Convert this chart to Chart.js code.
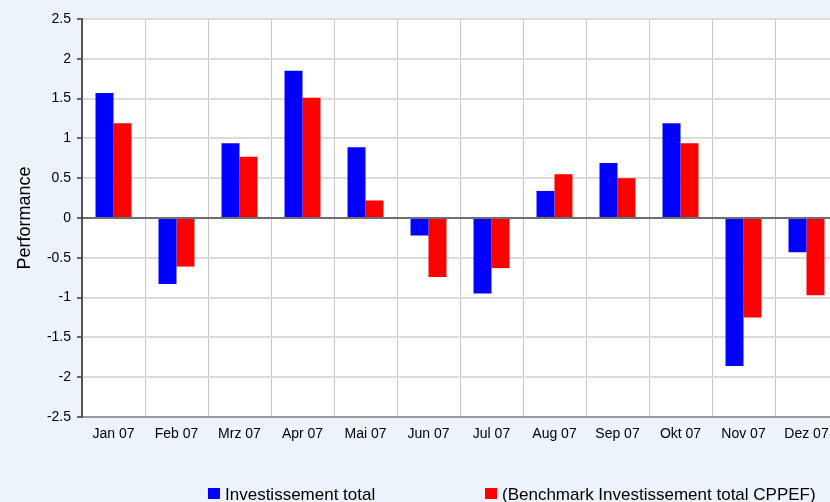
<!DOCTYPE html>
<html>
<head>
<meta charset="utf-8">
<script src="https://cdn.jsdelivr.net/npm/chart.js@4/dist/chart.umd.min.js"></script>
<style>
html,body{margin:0;padding:0;background:#EDF3FB;overflow:hidden;width:830px;height:502px;}
canvas{display:block;}
</style>
</head>
<body>
<canvas id="c" width="850" height="502"></canvas>
<script>
const categories = ['Jan 07','Feb 07','Mrz 07','Apr 07','Mai 07','Jun 07','Jul 07','Aug 07','Sep 07','Okt 07','Nov 07','Dez 07'];
const investissement = [1.57,-0.83,0.94,1.85,0.89,-0.22,-0.95,0.34,0.69,1.19,-1.86,-0.43];
const benchmark = [1.19,-0.61,0.77,1.51,0.22,-0.74,-0.63,0.55,0.50,0.94,-1.25,-0.97];
const seriesLabels = ['Investissement total','(Benchmark Investissement total CPPEF)'];
const yTicks = [2.5,2,1.5,1,0.5,0,-0.5,-1,-1.5,-2,-2.5];

const FONT = '"Liberation Sans", Arial, sans-serif';

const plotBg = {
  id:'plotBg',
  beforeDraw(chart){
    const {ctx, chartArea:a} = chart;
    ctx.save(); ctx.fillStyle='#FFFFFF';
    ctx.fillRect(a.left,a.top,a.right-a.left,a.bottom-a.top);
    ctx.restore();
  }
};
const zeroLine = {
  id:'zeroLine',
  afterDatasetsDraw(chart){
    const {ctx, chartArea:a, scales:{y}} = chart;
    const py = Math.round(y.getPixelForValue(0));
    ctx.save(); ctx.strokeStyle='rgba(0,0,0,0.5)'; ctx.lineWidth=2;
    ctx.beginPath(); ctx.moveTo(a.left,py); ctx.lineTo(a.right,py); ctx.stroke();
    ctx.restore();
  }
};
const customLegend = {
  id:'customLegend',
  afterDraw(chart){
    const {ctx} = chart;
    const pos = [208,485];
    ctx.save();
    ctx.font = '17px ' + FONT;
    ctx.textBaseline = 'alphabetic';
    chart.data.datasets.forEach((ds,i)=>{
      ctx.fillStyle = ds.backgroundColor;
      ctx.fillRect(pos[i],488,12,11);
      ctx.fillStyle = '#000';
      ctx.fillText(ds.label,pos[i]+17,500);
    });
    ctx.restore();
  }
};

new Chart(document.getElementById('c'),{
  type:'bar',
  data:{
    labels:categories,
    datasets:[
      {label:seriesLabels[0],data:investissement,backgroundColor:'#0000FF',categoryPercentage:0.571,barPercentage:1.0},
      {label:seriesLabels[1],data:benchmark,backgroundColor:'#FF0000',categoryPercentage:0.571,barPercentage:1.0}
    ]
  },
  options:{
    responsive:false,
    animation:false,
    layout:{padding:{left:0,right:12,top:19,bottom:0}},
    plugins:{legend:{display:false},tooltip:{enabled:false}},
    scales:{
      x:{
        afterFit(s){ s.height = 85; },
        grid:{offset:true,color:'#C8C8C8',lineWidth:1,drawTicks:false},
        border:{color:'#9A9A9A',width:2},
        ticks:{color:'#000',font:{family:FONT,size:14},padding:9,maxRotation:0,autoSkip:false}
      },
      y:{
        min:-2.5,max:2.5,
        afterFit(s){ s.width = 82; },
        afterBuildTicks(s){ s.ticks = yTicks.map(v=>({value:v})); },
        grid:{color:'#DCDCDC',lineWidth:2,tickColor:'#666666',tickLength:5},
        border:{color:'#555555',width:2},
        ticks:{color:'#000',font:{family:FONT,size:14},padding:6,callback:v=>String(v)},
        title:{display:true,text:'Performance',color:'#000',font:{family:FONT,size:18},padding:{top:14,bottom:0}}
      }
    }
  },
  plugins:[plotBg,zeroLine,customLegend]
});
</script>
</body>
</html>
